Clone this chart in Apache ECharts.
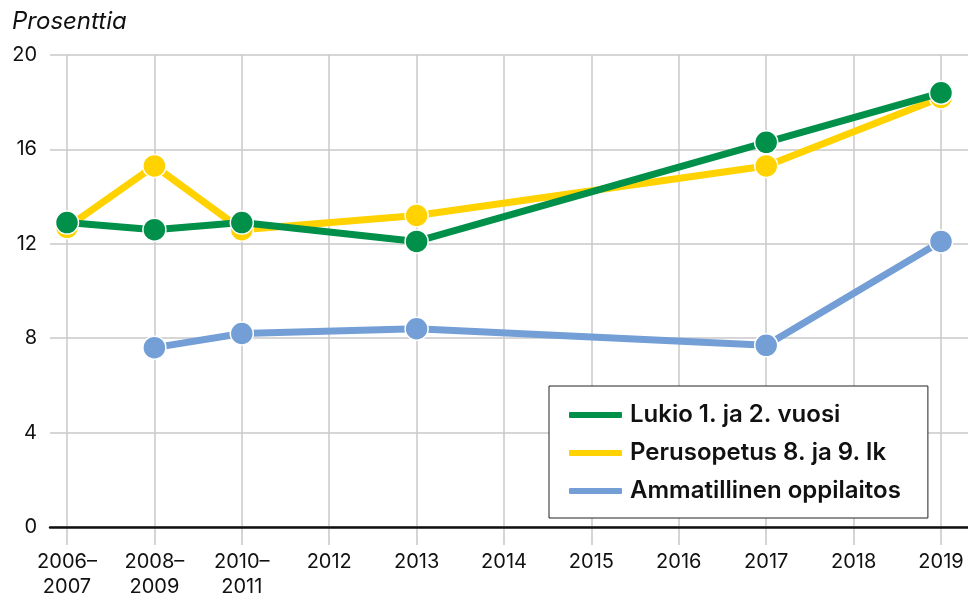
<!DOCTYPE html>
<html>
<head>
<meta charset="utf-8">
<script src="https://cdn.jsdelivr.net/npm/echarts@6/dist/echarts.min.js"></script>
<style>
  html, body { margin: 0; padding: 0; background: #fff; }
  #chart { width: 968px; height: 603px; }
</style>
</head>
<body>
<div id="chart"></div>
<script>
// kategoriat ja sarjat
var years = ['2006–\n2007', '2008–\n2009', '2010–\n2011', '2012', '2013', '2014', '2015', '2016', '2017', '2018', '2019'];
var lukio = [12.9, 12.6, 12.9, null, 12.1, null, null, null, 16.3, null, 18.4];
var perusopetus = [12.7, 15.3, 12.6, null, 13.2, null, null, null, 15.3, null, 18.2];
var ammatillinen = [null, 7.6, 8.2, null, 8.4, null, null, null, 7.7, null, 12.1];
var yTicks = [0, 4, 8, 12, 16, 20];

var font = 'Inter, "Noto Sans", sans-serif';
var gridColor = '#c8c8c8';

var myChart = echarts.init(document.getElementById('chart'));

function lineSeries(name, data, color, z) {
    return {
        name: name,
        type: 'line',
        xAxisIndex: 1,
        yAxisIndex: 1,
        data: data,
        connectNulls: true,
        symbol: 'circle',
        symbolSize: 23,
        z: z,
        lineStyle: { color: color, width: 7 },
        itemStyle: { color: color, borderColor: '#fff', borderWidth: 1.5 },
        emphasis: { disabled: true }
    };
}

option = {
    animation: false,
    backgroundColor: '#fff',
    title: {
        text: 'Prosenttia',
        left: 7,
        top: 5,
        textStyle: { fontFamily: font, fontStyle: 'italic', fontWeight: 'normal', fontSize: 24, color: '#111' }
    },
    legend: {
        left: 549,
        top: 386,
        orient: 'vertical',
        backgroundColor: '#fff',
        borderColor: '#222',
        borderWidth: 1,
        borderRadius: 0,
        padding: [16, 27, 14, 18],
        itemGap: 12,
        itemWidth: 55,
        itemHeight: 8,
        icon: 'roundRect',
        data: ['Lukio 1. ja 2. vuosi', 'Perusopetus 8. ja 9. lk', 'Ammatillinen oppilaitos'],
        textStyle: { fontFamily: font, fontSize: 24, fontWeight: 600, color: '#111', lineHeight: 26, padding: [0, 0, 0, 2] }
    },
    grid: [
        { left: 50, right: 0, top: 55, bottom: 76 },
        { left: 67, right: 27, top: 55, bottom: 76 }
    ],
    xAxis: [
        {
            gridIndex: 0,
            type: 'value',
            min: 0,
            max: 1,
            z: 5,
            axisLine: { show: true, lineStyle: { color: '#111', width: 2.5 } },
            axisTick: { show: false },
            axisLabel: { show: false },
            splitLine: { show: false }
        },
        {
            gridIndex: 1,
            type: 'category',
            data: years,
            boundaryGap: false,
            axisLine: { show: false },
            axisTick: { show: true, length: 18, lineStyle: { color: gridColor, width: 1.5 } },
            axisLabel: { fontFamily: font, fontSize: 20, color: '#111', margin: 22, lineHeight: 25 },
            splitLine: { show: true, lineStyle: { color: gridColor, width: 1.5 } }
        }
    ],
    yAxis: [
        {
            gridIndex: 0,
            type: 'value',
            min: 0,
            max: 20,
            interval: 4,
            axisLine: { show: false },
            axisTick: { show: false },
            axisLabel: { fontFamily: font, fontSize: 20, color: '#111', margin: 13 },
            splitLine: { show: true, lineStyle: { color: gridColor, width: 1.5 } }
        },
        {
            gridIndex: 1,
            type: 'value',
            min: 0,
            max: 20,
            interval: 4,
            show: false
        }
    ],
    series: [
        lineSeries('Lukio 1. ja 2. vuosi', lukio, '#00904a', 4),
        lineSeries('Perusopetus 8. ja 9. lk', perusopetus, '#ffd200', 3),
        lineSeries('Ammatillinen oppilaitos', ammatillinen, '#739fd6', 2)
    ]
};

myChart.setOption(option);
</script>
</body>
</html>
